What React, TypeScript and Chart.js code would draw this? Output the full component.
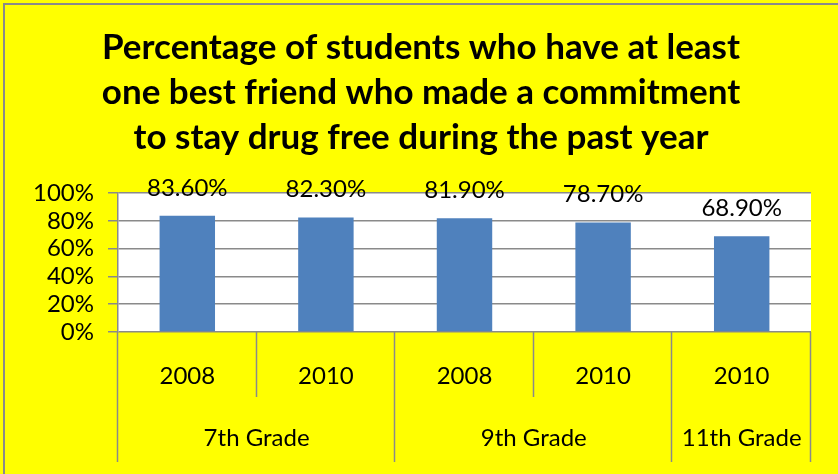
import React, { useEffect, useRef } from "react";
import { Chart, registerables } from "chart.js";

Chart.register(...registerables);

const titleLines = [
  "Percentage of students who have at least",
  "one best friend who made a commitment",
  "to stay drug free during the past year",
];
const years = ["2008", "2010", "2008", "2010", "2010"];
const groups = ["7th Grade", "9th Grade", "11th Grade"];
const groupSpans = [2, 2, 1];
const values = [83.6, 82.3, 81.9, 78.7, 68.9];
const yTicks = [0, 20, 40, 60, 80, 100];

const FONT = "Lato, 'Open Sans', sans-serif";
const GRAY = "#8a8a8a";

export default function App() {
  const ref = useRef<HTMLCanvasElement | null>(null);
  useEffect(() => {
    document.body.style.margin = "0";
    const canvas = ref.current!;
    const custom = {
      id: "custom",
      beforeDraw(chart: any) {
        const { ctx, chartArea: a, width, height } = chart;
        ctx.save();
        ctx.fillStyle = "#ffff00";
        ctx.fillRect(0, 0, width, height);
        ctx.fillStyle = "#ffffff";
        ctx.fillRect(a.left, a.top, a.right - a.left, a.bottom - a.top);
        // frame
        ctx.strokeStyle = GRAY;
        ctx.lineWidth = 2;
        ctx.beginPath();
        ctx.moveTo(4, height + 5);
        ctx.lineTo(4, 4);
        ctx.lineTo(width + 5, 4);
        ctx.stroke();
        ctx.restore();
      },
      afterDraw(chart: any) {
        const { ctx, chartArea: a } = chart;
        const xs = chart.scales.x;
        ctx.save();
        // title
        ctx.fillStyle = "#000";
        ctx.textAlign = "center";
        ctx.textBaseline = "middle";
        ctx.font = `bold 35px ${FONT}`;
        const tcx = 421;
        titleLines.forEach((t, i) => ctx.fillText(t, tcx, 48 + i * 45));
        // data labels
        ctx.font = `24px ${FONT}`;
        const meta = chart.getDatasetMeta(0);
        meta.data.forEach((bar: any, i: number) => {
          ctx.fillText(values[i].toFixed(2) + "%", bar.x, bar.y - 28);
        });
        // category axis separators
        const half = (xs.getPixelForValue(1) - xs.getPixelForValue(0)) / 2;
        ctx.strokeStyle = GRAY;
        ctx.lineWidth = 1.5;
        const yearBottom = 397;
        const groupBottom = 462;
        let idx = 0;
        const groupEdges = new Set<number>([0]);
        groupSpans.forEach((s) => {
          idx += s;
          groupEdges.add(idx);
        });
        for (let i = 0; i <= years.length; i++) {
          const x = Math.round(xs.getPixelForValue(i) - half) + 0.5 - 1;
          ctx.beginPath();
          ctx.moveTo(x, a.bottom);
          ctx.lineTo(x, groupEdges.has(i) ? groupBottom : yearBottom);
          ctx.stroke();
        }
        // year labels
        ctx.font = `24px ${FONT}`;
        years.forEach((y, i) => ctx.fillText(y, xs.getPixelForValue(i), 376));
        // group labels
        let start = 0;
        groups.forEach((g, gi) => {
          const end = start + groupSpans[gi] - 1;
          const cx = (xs.getPixelForValue(start) + xs.getPixelForValue(end)) / 2;
          ctx.fillText(g, cx, 438);
          start += groupSpans[gi];
        });
        ctx.restore();
      },
    };
    const chart = new Chart(canvas, {
      type: "bar",
      data: {
        labels: years,
        datasets: [
          {
            data: values,
            backgroundColor: "#4f81bd",
            barPercentage: 0.4,
            categoryPercentage: 1,
          },
        ],
      },
      options: {
        animation: false,
        responsive: false,
        maintainAspectRatio: false,
        layout: { padding: { top: 193, right: 27, bottom: 142, left: 0 } },
        plugins: {
          legend: { display: false },
          title: { display: false },
          tooltip: { enabled: false },
        },
        scales: {
          x: { display: false, offset: true },
          y: {
            min: 0,
            max: 100,
            afterFit: (s: any) => {
              s.width = 118;
            },
            afterBuildTicks: (s: any) => {
              s.ticks = yTicks.map((v) => ({ value: v }));
            },
            ticks: {
              color: "#000",
              font: { family: FONT, size: 24 },
              padding: 14,
              autoSkip: false,
              callback: (v: any) => v + "%",
            },
            grid: { color: GRAY, lineWidth: 1.5, tickLength: 10 },
            border: { color: GRAY, width: 1.5 },
          },
        },
      },
      plugins: [custom],
    });
    return () => chart.destroy();
  }, []);
  return (
    <div style={{ position: "fixed", left: 0, top: 0, width: 838, height: 474 }}>
      <canvas ref={ref} width={838} height={474} style={{ width: 838, height: 474 }} />
    </div>
  );
}
